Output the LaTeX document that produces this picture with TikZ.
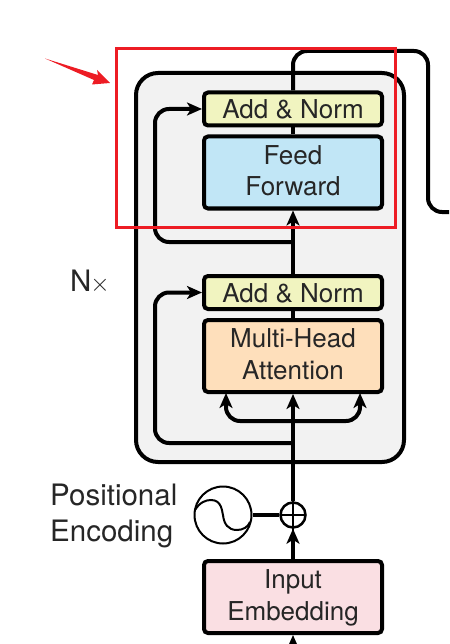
\documentclass[tikz,border=0pt]{standalone}
\usepackage{fontspec}
\setmainfont{TeX Gyre Heros}
\usetikzlibrary{arrows.meta,positioning}
\definecolor{norm}{HTML}{F1F4C0}
\definecolor{feed}{HTML}{C1E6F6}
\definecolor{attn}{HTML}{FEDFBB}
\definecolor{embed}{HTML}{FADFE3}
\definecolor{block}{HTML}{F2F2F2}
\definecolor{hilite}{HTML}{ED1C24}
\begin{document}
\begin{tikzpicture}[
  x=1pt, y=-1pt,
  box/.style={draw=black, rounded corners=4pt, line width=4pt, minimum width=178pt, fill=#1, align=center, inner sep=0pt, font=\fontsize{26}{31.5}\selectfont, text=black!85},
  bar/.style={box=#1, minimum height=33pt, text height=20.5pt},
  tall/.style={box=#1, minimum height=72pt, text depth=4pt},
  arrow/.style={-{Stealth[length=15pt,width=13pt,inset=4pt]}, line width=4pt},
  wire/.style={line width=4pt},
  label/.style={font=\fontsize{29.5}{36}\selectfont, text=black!85, inner sep=0pt, align=left}
]
  \useasboundingbox (0,0) rectangle (449,644);

  % encoder block
  \node[draw=black, line width=4pt, rounded corners=22pt, fill=block, minimum width=268pt, minimum height=389pt] (encoder) at (270,267.5) {};

  % upper layer
  \node[tall=feed] (ff) at (293,172.5) {Feed\\Forward};
  \node[bar=norm, above=7pt of ff] (normb) {Add \& Norm};

  % lower layer
  \node[tall=attn] (mha) at (293,356) {Multi-Head\\Attention};
  \node[bar=norm, above=7pt of mha] (norma) {Add \& Norm};

  % input side
  \node[tall=embed, below=165pt of mha] (emb) {Input\\Embedding};
  \node[draw=black, circle, line width=2.5pt, minimum size=25pt, fill=white, inner sep=0pt] (plus) at (293,515) {};
  \node[draw=black, circle, line width=2pt, minimum size=57pt, inner sep=0pt] (pe) at (223,515) {};

  % labels
  \node[label] (nx) at (90,282) {N\kern-1pt$\times$};
  \node[label, anchor=west] (pos) at (50,516) {Positional\\Encoding};

  % free ends
  \coordinate (skipb) at (293,242);
  \coordinate (skipa) at (293,443);
  \coordinate (fan) at (293,421);
  \coordinate (left) at (155,0);
  \coordinate (faninl) at (226,393);
  \coordinate (faninr) at (360,393);
  \coordinate (turn) at (428,51);
  \coordinate (out) at (449,212);
  \coordinate (in) at (293,644);

  % main line
  \draw[arrow] (in) -- (emb.south);
  \draw[arrow] (emb.north) -- (plus.south);
  \draw[arrow] (plus.north) -- (mha.south);
  \draw[wire] (mha.north) -- (norma.south);
  \draw[arrow] (norma.north) -- (ff.south);
  \draw[wire] (ff.north) -- (normb.south);
  \draw[wire] (pe.east) -- (plus.west);

  % output going round to the right
  \draw[wire, rounded corners=14pt] (normb.north) -- (normb.north |- turn) -- (turn) -- (turn |- out) -- (out);

  % skip connections
  \draw[arrow, rounded corners=14pt] (skipb) -- (skipb -| left) -- (left |- normb.west) -- (normb.west);
  \draw[arrow, rounded corners=14pt] (skipa) -- (skipa -| left) -- (left |- norma.west) -- (norma.west);

  % query, key, value
  \draw[arrow, rounded corners=14pt] (fan) -- (fan -| faninl) -- (faninl);
  \draw[arrow, rounded corners=14pt] (fan) -- (fan -| faninr) -- (faninr);

  % plus sign and wave
  \draw[line width=2pt] ([yshift=2pt]plus.north) -- ([yshift=-2pt]plus.south);
  \draw[line width=2pt] ([xshift=2pt]plus.west) -- ([xshift=-2pt]plus.east);
  \draw[line width=2pt] (195,510) .. controls (200,502) and (206,500) .. (211,500) .. controls (222,500) and (222,512) .. (223,515) .. controls (224,524) and (228,530) .. (237,530) .. controls (243,530) and (248,527) .. (250,522);

  % highlight
  \node[draw=hilite, line width=3pt, minimum width=279pt, minimum height=178pt, inner sep=0pt] (focus) at (255.5,138) {};
  \coordinate (tail) at (45,58.5);
  \coordinate (tip) at (110,83);
  \fill[hilite] (tail) -- (98,75) -- (97,70) -- (tip) -- (92,84.5) -- (94,80) -- cycle;
\end{tikzpicture}
\end{document}
